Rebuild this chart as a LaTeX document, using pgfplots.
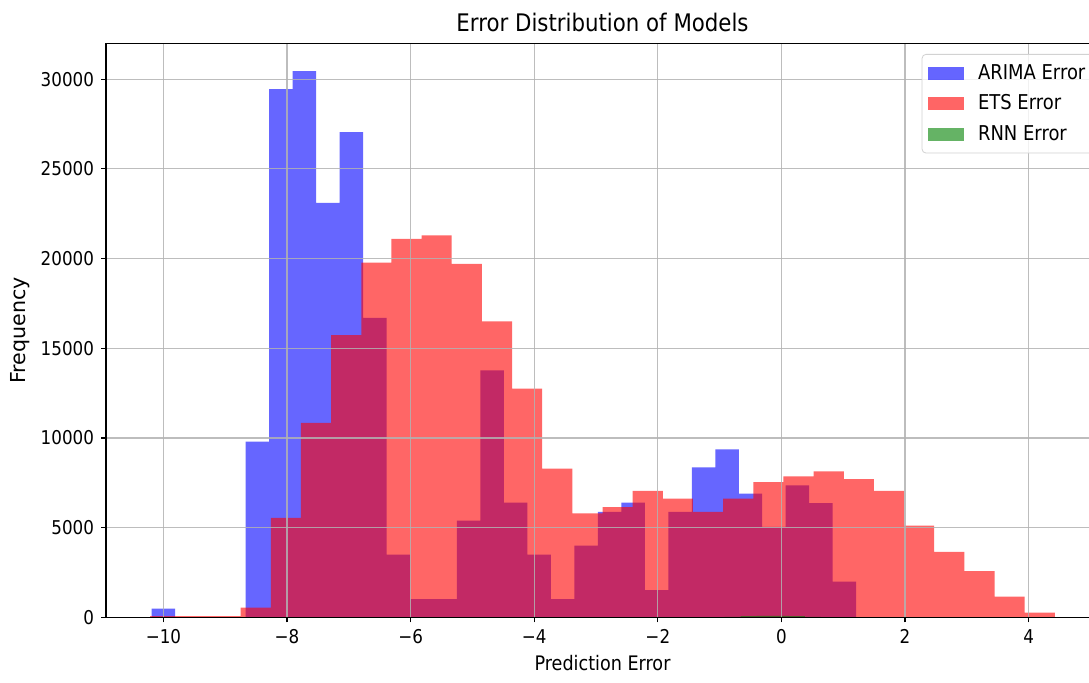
\documentclass[border=0pt]{standalone}
\usepackage{fontspec}
\setmainfont{DejaVu Sans}[FakeStretch=0.88]
\newfontfamily\ylabfont{DejaVu Sans}
\usepackage{pgfplots}
\pgfplotsset{compat=1.18}
\definecolor{mplgreen}{RGB}{0,128,0}
\pgfplotsset{histleg/.style={legend image code/.code={\fill[##1, sharp corners] (0pt,-3.3pt) rectangle (17.85pt,3.3pt); \path (23pt,0pt);}}}
\begin{document}
\begin{tikzpicture}
\begin{axis}[
  scale only axis, width=496.5pt, height=287.1pt,
  xmin=-10.93, xmax=5.14, ymin=0, ymax=32000,
  xtick={-10,-8,-6,-4,-2,0,2,4},
  xticklabels={−10,−8,−6,−4,−2,0,2,4},
  ytick={0,5000,10000,15000,20000,25000,30000},
  scaled y ticks=false,
  /pgf/number format/.cd, set thousands separator={}, assume math mode=true, /pgfplots/.cd,
  tick label style={font=\fontsize{9.5}{11}\selectfont},
  axis on top,
  grid=major, grid style={gray!60, line width=0.6pt, opacity=0.85},
  axis line style={line width=0.7pt},
  tick align=outside, tick pos=left, major tick length=2.5pt,
  tick style={black, line width=0.6pt},
  title={Error Distribution of Models},
  title style={font=\fontsize{12.1}{14}\selectfont, at={(axis description cs:0.5,1)}, anchor=base, yshift=0pt},
  xlabel={Prediction Error},
  xlabel style={font=\fontsize{10}{12}\selectfont, at={(axis description cs:0.5,0)}, anchor=base, yshift=-26.25pt},
  ylabel={Frequency},
  ylabel style={font=\ylabfont\fontsize{10.3}{12}\selectfont, at={(axis description cs:-0.0868,0.5)}, anchor=center},
  legend style={at={(axis description cs:0.8214,0.9814)}, anchor=north west, draw=gray!35,
    rounded corners=2pt, fill=white, fill opacity=0.8, text opacity=1,
    font=\fontsize{10.2}{12}\selectfont, cells={anchor=west}, row sep=2.2pt,
    inner xsep=3pt, inner ysep=3pt},
]
\addplot[ybar interval, fill=blue, fill opacity=0.6, draw=none, histleg] coordinates {
(-10.19,500) (-9.81,0) (-9.43,0) (-9.05,0) (-8.67,9800) (-8.29,29450) (-7.91,30450)
(-7.53,23100) (-7.15,27050) (-6.77,16700) (-6.39,3500) (-6.01,1030) (-5.63,1030)
(-5.25,5400) (-4.87,13770) (-4.49,6400) (-4.11,3500) (-3.73,1030) (-3.35,4000)
(-2.97,5880) (-2.59,6400) (-2.21,1530) (-1.83,5880) (-1.45,8360) (-1.07,9365)
(-0.69,6900) (-0.31,5050) (0.07,7365) (0.45,6380) (0.83,2000) (1.21,0)
};
\addlegendentry{ARIMA Error}
\addplot[ybar interval, fill=red, fill opacity=0.6, draw=none, histleg] coordinates {
(-10.215,80) (-9.727,80) (-9.239,80) (-8.751,545) (-8.263,5550) (-7.775,10850)
(-7.287,15740) (-6.799,19775) (-6.311,21100) (-5.823,21300) (-5.335,19700)
(-4.847,16500) (-4.359,12750) (-3.871,8300) (-3.383,5800) (-2.895,6150)
(-2.407,7050) (-1.919,6625) (-1.431,5880) (-0.943,6625) (-0.455,7550)
(0.033,7860) (0.521,8150) (1.009,7715) (1.497,7050) (1.985,5120) (2.473,3660)
(2.961,2585) (3.449,1160) (3.937,270) (4.425,0)
};
\addlegendentry{ETS Error}
\addplot[ybar interval, fill=mplgreen, fill opacity=0.6, draw=none, histleg] coordinates {
(-0.92,40) (-0.66,70) (-0.40,90) (-0.14,90) (0.12,70) (0.38,40) (0.64,0)
};
\addlegendentry{RNN Error}
\end{axis}
\pgfresetboundingbox
\path[use as bounding box] ([shift={(-53pt,-32.75pt)}]current axis.south west)
  rectangle ([shift={(-5pt,21.65pt)}]current axis.north east);
\end{tikzpicture}
\end{document}
